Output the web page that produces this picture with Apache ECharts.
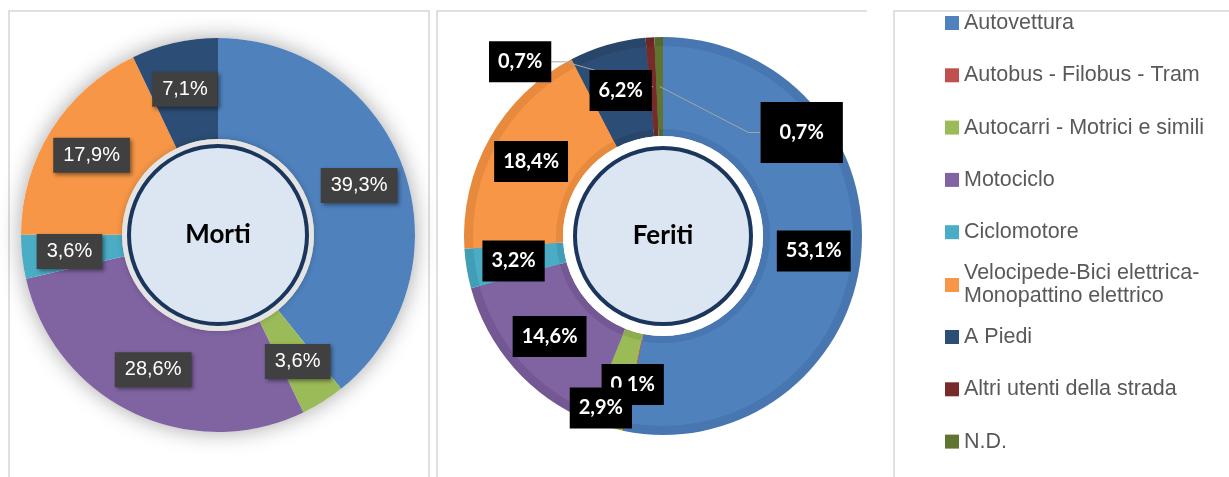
<!DOCTYPE html>
<html>
<head>
<meta charset="utf-8">
<script src="https://cdn.jsdelivr.net/npm/echarts@6/dist/echarts.min.js"></script>
<style>
html, body { margin:0; padding:0; background:#fff; }
#chart { width:1229px; height:477px; }
</style>
</head>
<body>
<div id="chart"></div>
<script>
// categorie (legenda) e percentuali
const categories = [
    'Autovettura',
    'Autobus - Filobus - Tram',
    'Autocarri - Motrici e simili',
    'Motociclo',
    'Ciclomotore',
    'Velocipede-Bici elettrica-\nMonopattino elettrico',
    'A Piedi',
    'Altri utenti della strada',
    'N.D.'
];
const morti  = [39.3, 0, 3.6, 28.6, 3.6, 17.9, 7.1, 0, 0];
const feriti = [53.1, 0.1, 2.9, 14.6, 3.2, 18.4, 6.2, 0.7, 0.7];
const centerTitles = ['Morti', 'Feriti'];

const colors     = ['#4f81bd', '#c0504d', '#9bbb59', '#8064a2', '#4bacc6', '#f79646', '#2c4d75', '#772c2a', '#5f7530'];
const colorsDark = ['#4776b0', '#b0463f', '#8dab4f', '#735894', '#429db6', '#e88a3e', '#284669', '#6a2725', '#55692b'];

// etichette esterne con linea guida (Feriti) e quella che le copre
const outsideIdx = [7, 8];
const topLayerIdx = [6, 7, 8];

const C1 = [218, 235];
const C2 = [663, 236];

function fmt(p) {
    return p.value.toFixed(1).replace('.', ',') + '%';
}

let dom = document.getElementById('chart');
let myChart = echarts.init(dom);

const legendBase = {
    orient:'vertical',
    left:945,
    padding:0,
    icon:'rect',
    itemWidth:14,
    itemHeight:14,
    itemGap:29.3,
    selectedMode:false,
    textStyle:{
        fontFamily:'Liberation Sans',
        fontSize:21.5,
        lineHeight:23,
        color:'#595959'
    }
};

const feritiLabel = {
    show:true, position:'inside', formatter:fmt,
    color:'#fff', fontFamily:'Lato', fontWeight:'bold', fontSize:20,
    backgroundColor:'#000', padding:[11, 9, 10, 9]
};

let option = {
    animation:false,
    color:colors,
    graphic:[
        { type:'rect', shape:{ x:9, y:11, width:420, height:490 }, style:{ fill:'none', stroke:'#d6d6d6', lineWidth:1.5 }, z:-10 },
        { type:'polyline', shape:{ points:[[437, 490], [437, 11], [867, 11]] }, style:{ fill:'none', stroke:'#d6d6d6', lineWidth:1.5 }, z:-10 },
        { type:'rect', shape:{ x:894, y:11, width:400, height:490 }, style:{ fill:'none', stroke:'#d6d6d6', lineWidth:1.5 }, z:-10 }
    ],
    legend:[
        Object.assign({}, legendBase, { top:11.5, data:categories.slice(0, 5) }),
        Object.assign({}, legendBase, { top:250.5, data:[{ name:categories[5], textStyle:{ padding:[23, 0, 0, 0] } }] }),
        Object.assign({}, legendBase, { top:325.5, data:categories.slice(6) })
    ],
    series:[
        // ombra morbida sotto la ciambella di sinistra
        {
            type:'pie', silent:true, center:C1, radius:[96, 197], z:1,
            data:[{ name:'_ombra', value:1 }],
            itemStyle:{ color:'#fff', shadowBlur:22, shadowColor:'rgba(0,0,0,0.35)' },
            label:{ show:false }, labelLine:{ show:false }
        },
        {
            type:'pie', name:'Morti', silent:true, center:C1, radius:[96, 197], z:2,
            startAngle:90, avoidLabelOverlap:false,
            data:categories.map((n, i) => ({
                name:n, value:morti[i],
                itemStyle:{ color:colors[i] },
                label:{ show:morti[i] > 0 }
            })),
            label:{
                show:true, position:'inside', formatter:fmt,
                color:'#fff', fontFamily:'Liberation Sans', fontSize:20,
                backgroundColor:'#404040', padding:[8, 10, 7, 10],
                shadowColor:'rgba(0,0,0,0.45)', shadowBlur:4, shadowOffsetX:2, shadowOffsetY:2
            },
            labelLine:{ show:false }
        },
        {
            type:'pie', silent:true, center:C1, radius:[0, 96], z:3,
            data:[{ name:'_anello1', value:1 }],
            itemStyle:{ color:'#e4e4e4', shadowBlur:6, shadowColor:'rgba(0,0,0,0.2)' },
            label:{ show:false }, labelLine:{ show:false }
        },
        {
            type:'pie', silent:true, center:C1, radius:[0, 89], z:4,
            data:[{ name:centerTitles[0], value:1 }],
            itemStyle:{ color:'#dce6f2', borderColor:'#1b365c', borderWidth:4 },
            label:{ show:true, position:'center', formatter:'{b}', fontFamily:'Lato', fontWeight:'bold', fontSize:26, color:'#000' },
            labelLine:{ show:false }
        },
        // Feriti: bordo scuro (effetto rilievo) + fetta interna
        {
            type:'pie', silent:true, center:C2, radius:[100, 199], z:1,
            startAngle:90,
            data:categories.map((n, i) => ({ name:n, value:feriti[i], itemStyle:{ color:colorsDark[i] } })),
            label:{ show:false }, labelLine:{ show:false }
        },
        {
            type:'pie', name:'Feriti', silent:true, center:C2, radius:[107, 190], z:2,
            startAngle:90, avoidLabelOverlap:false,
            data:categories.map((n, i) => ({
                name:n, value:feriti[i],
                itemStyle:{ color:colors[i] },
                label:{ show:topLayerIdx.indexOf(i) < 0 }
            })),
            label:feritiLabel,
            labelLine:{ show:false },
            labelLayout:function (p) {
                // 2,9% spostata verso l'esterno come nell'originale
                if ( p.dataIndex === 2 ) return { dx:-18, dy:27 };
                return {};
            }
        },
        // livello trasparente: etichette con linea guida e 6,2% sopra di esse
        {
            type:'pie', silent:true, center:C2, radius:[107, 190], z:5,
            startAngle:90, avoidLabelOverlap:false,
            data:categories.map((n, i) => {
                let out = outsideIdx.indexOf(i) >= 0;
                let d = {
                    name:n, value:feriti[i],
                    itemStyle:{ color:'rgba(0,0,0,0)' },
                    label:{ show:topLayerIdx.indexOf(i) >= 0 },
                    labelLine:{ show:out, lineStyle:{ color:'#a6a6a6', width:1 } }
                };
                if ( out ){
                    d.label.position = 'outside';
                    d.label.padding = i === 8 ? [21, 19, 20, 19] : [11, 9, 10, 9];
                }
                return d;
            }),
            label:feritiLabel,
            labelLayout:function (p) {
                if ( outsideIdx.indexOf(p.dataIndex) < 0 ) return {};
                const pt = p.labelLinePoints ? p.labelLinePoints[0] : [C2[0], C2[1] - 190];
                const a = Math.atan2(pt[1] - C2[1], pt[0] - C2[0]);
                const s = [C2[0] + 149.5 * Math.cos(a), C2[1] + 149.5 * Math.sin(a)];
                const w = p.labelRect.width;
                if ( p.dataIndex === 8 ){
                    const x = s[0] + 142, y = s[1] + 46;
                    return { x:x, y:y, align:'center', verticalAlign:'middle',
                        labelLinePoints:[s, [x - w / 2 - 12, y], [x - w / 2, y]] };
                }
                const x = s[0] - 133, y = s[1] - 25;
                return { x:x, y:y, align:'center', verticalAlign:'middle',
                    labelLinePoints:[s, [x + w / 2 + 14, y], [x + w / 2, y]] };
            }
        },
        {
            type:'pie', silent:true, center:C2, radius:[0, 100], z:3,
            data:[{ name:'_anello2', value:1 }],
            itemStyle:{ color:'#fff' },
            label:{ show:false }, labelLine:{ show:false }
        },
        {
            type:'pie', silent:true, center:C2, radius:[0, 88], z:4,
            data:[{ name:centerTitles[1], value:1 }],
            itemStyle:{ color:'#dce6f2', borderColor:'#1b365c', borderWidth:4 },
            label:{ show:true, position:'center', formatter:'{b}', fontFamily:'Lato', fontWeight:'bold', fontSize:26, color:'#000' },
            labelLine:{ show:false }
        }
    ]
};
myChart.setOption(option);
</script>
</body>
</html>
